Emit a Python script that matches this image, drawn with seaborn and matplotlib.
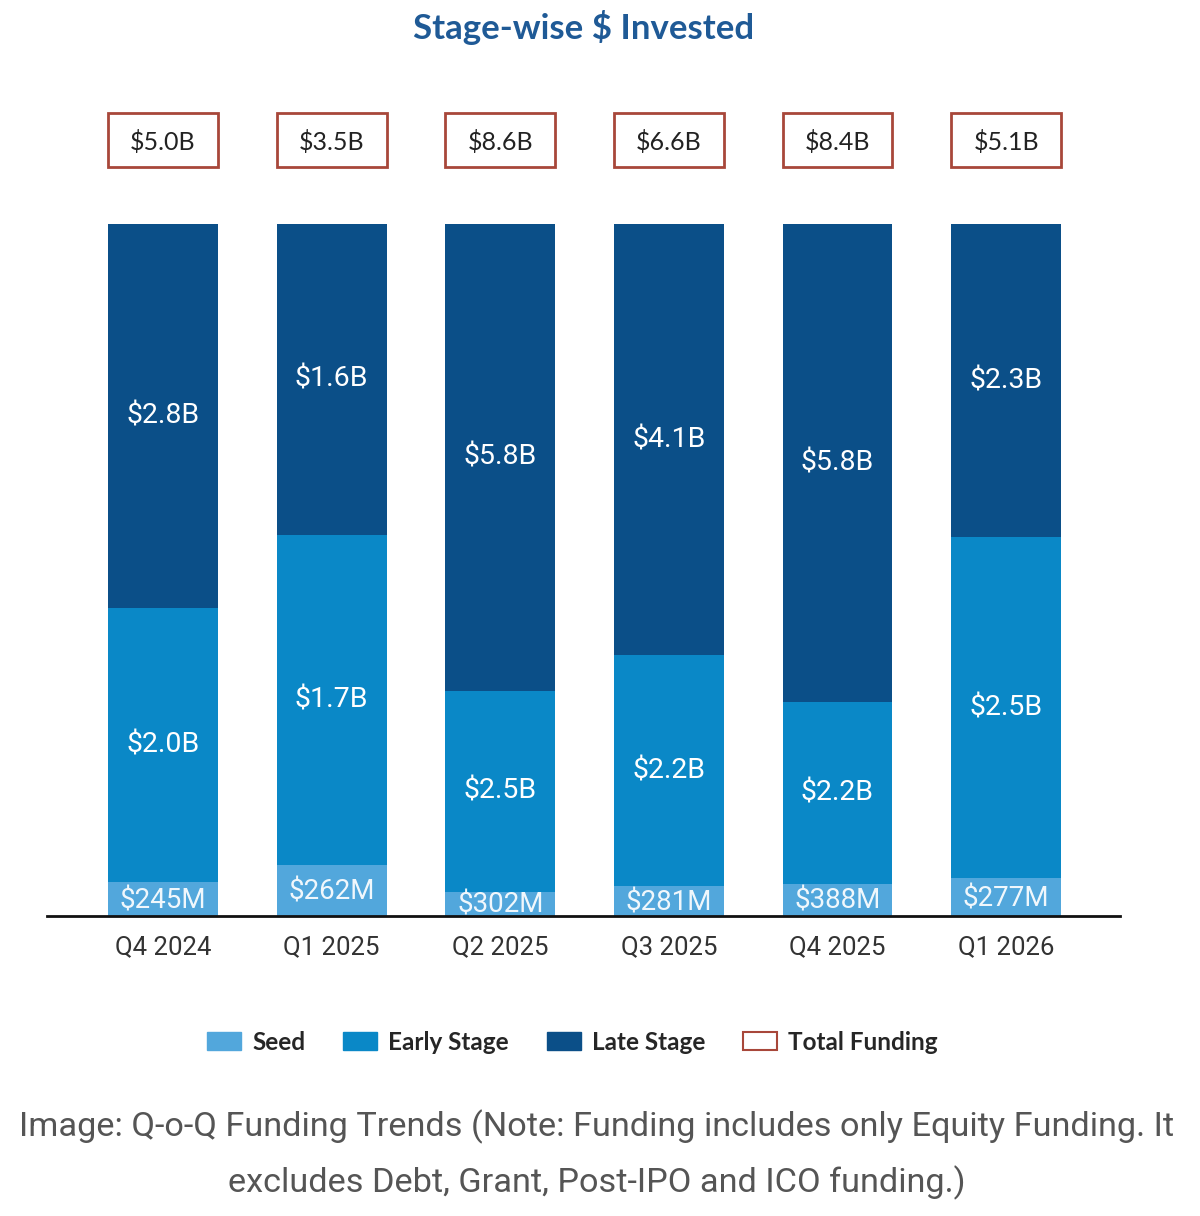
import matplotlib
matplotlib.use("Agg")
import matplotlib.pyplot as plt
import matplotlib.patches as mpatches
import seaborn as sns
import numpy as np
import pandas as pd

# ---- data ----
quarters = ["Q4 2024", "Q1 2025", "Q2 2025", "Q3 2025", "Q4 2025", "Q1 2026"]
seed = [0.245, 0.262, 0.302, 0.281, 0.388, 0.277]          # $B
early = [2.0, 1.7, 2.5, 2.2, 2.2, 2.5]                      # $B
late = [2.8, 1.6, 5.8, 4.1, 5.8, 2.3]                       # $B
total_labels = ["$5.0B", "$3.5B", "$8.6B", "$6.6B", "$8.4B", "$5.1B"]
seed_labels = ["$245M", "$262M", "$302M", "$281M", "$388M", "$277M"]
early_labels = ["$2.0B", "$1.7B", "$2.5B", "$2.2B", "$2.2B", "$2.5B"]
late_labels = ["$2.8B", "$1.6B", "$5.8B", "$4.1B", "$5.8B", "$2.3B"]

C_SEED = "#52a7dc"
C_EARLY = "#0a88c7"
C_LATE = "#0b4f88"
C_BOX = "#a8473a"

sns.set_theme(style="white")
plt.rcParams["font.family"] = ["Roboto", "DejaVu Sans"]

s = np.array(seed); e = np.array(early); l = np.array(late)
tot = s + e + l
sh_s = s / tot
sh_e = e / tot
sh_l = l / tot

df = pd.DataFrame({
    "quarter": quarters,
    "all": sh_s + sh_e + sh_l,
    "seed_early": sh_s + sh_e,
    "seed": sh_s,
})

fig = plt.figure(figsize=(12, 12.16), dpi=100)
ax = fig.add_axes([0.0392, 0.2467, 0.8942, 0.6716])

W = 0.652
for col, c in [("all", C_LATE), ("seed_early", C_EARLY), ("seed", C_SEED)]:
    sns.barplot(data=df, x="quarter", y=col, color=c, width=W, saturation=1,
                linewidth=0, edgecolor=c, ax=ax, zorder=2)

ax.set_xlim(-0.688, 5.676)
ax.set_ylim(0, 1.18)

for i in range(len(quarters)):
    ax.text(i, sh_s[i] / 2 - 0.002, seed_labels[i], ha="center", va="center",
            color="white", fontsize=20, zorder=5, alpha=0.92)
    ax.text(i, sh_s[i] + sh_e[i] / 2, early_labels[i], ha="center", va="center",
            color="white", fontsize=20.5, zorder=5)
    ax.text(i, sh_s[i] + sh_e[i] + sh_l[i] / 2, late_labels[i], ha="center", va="center",
            color="white", fontsize=20.5, zorder=5)
    bh = 0.078
    ax.add_patch(mpatches.Rectangle((i - W / 2, 1.121 - bh / 2), W, bh, fill=False,
                                    edgecolor=C_BOX, linewidth=2, zorder=3, clip_on=False))
    ax.text(i, 1.119, total_labels[i], ha="center", va="center", color="#222222",
            fontsize=18, family=["Lato", "DejaVu Sans"], zorder=5)

for sp in ["top", "right", "left"]:
    ax.spines[sp].set_visible(False)
ax.spines["bottom"].set_color("#111111")
ax.spines["bottom"].set_linewidth(2)
ax.spines["bottom"].set_zorder(4)
ax.set_yticks([])
ax.set_xlabel("")
ax.set_ylabel("")
ax.tick_params(axis="x", length=0, pad=14, labelsize=18.5, labelcolor="#333333")

fig.text(0.486, 0.977, "Stage-wise $ Invested", ha="center", va="center",
         fontsize=25, fontweight="bold", color="#1f5a96", family=["Lato", "DejaVu Sans"])

handles = [
    mpatches.Patch(facecolor=C_SEED, edgecolor=C_SEED, label="Seed"),
    mpatches.Patch(facecolor=C_EARLY, edgecolor=C_EARLY, label="Early Stage"),
    mpatches.Patch(facecolor=C_LATE, edgecolor=C_LATE, label="Late Stage"),
    mpatches.Patch(facecolor="white", edgecolor=C_BOX, linewidth=1.5, label="Total Funding"),
]
leg = fig.legend(handles=handles, loc="center", bbox_to_anchor=(0.477, 0.143), ncol=4,
                 frameon=False, handlelength=1.4, handleheight=0.72, handletextpad=0.45,
                 columnspacing=1.56, prop={"family": ["Lato", "DejaVu Sans"], "weight": "bold", "size": 17.5})

fig.text(0.4975, 1 - 1127 / 1216, "Image: Q-o-Q Funding Trends (Note: Funding includes only Equity Funding. It",
         ha="center", va="center", fontsize=24.7, color="#555555")
fig.text(0.4975, 1 - 1183 / 1216, "excludes Debt, Grant, Post-IPO and ICO funding.)",
         ha="center", va="center", fontsize=24.7, color="#555555")

fig.savefig("out.png", dpi=100, facecolor="white")
